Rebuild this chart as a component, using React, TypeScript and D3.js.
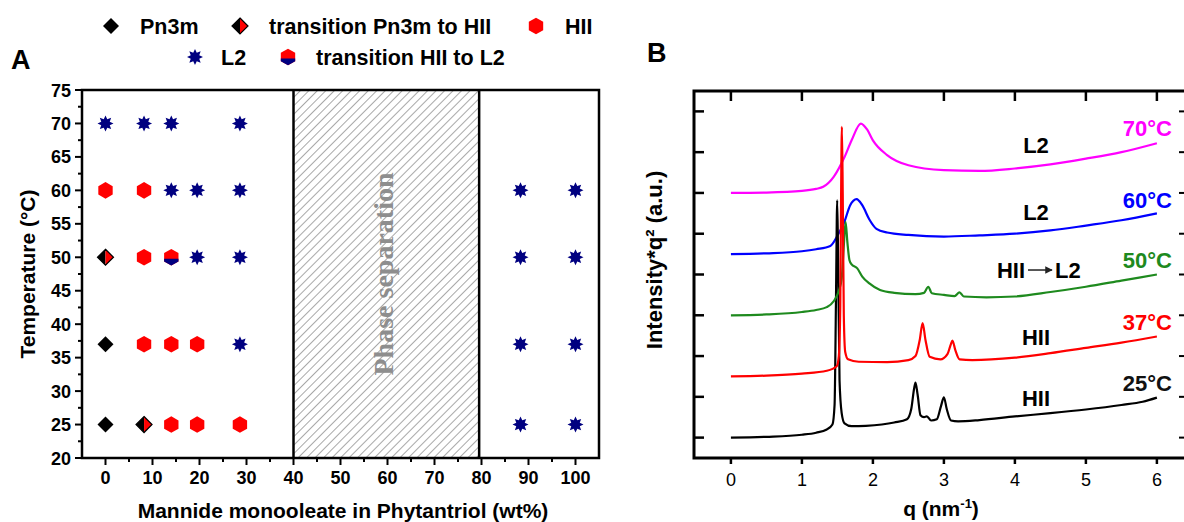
import React, { useRef, useEffect } from "react";
import * as d3 from "d3";

// ---------- panel A : phase diagram, [wt% MO, temperature °C] ----------
const pn3mPts = [[0, 37], [0, 25]];
const transPn3mHiiPts = [[0, 50], [8.2, 25]];
const hiiPts = [[0, 60], [8.2, 60], [8.2, 50], [8.2, 37], [14, 37], [19.5, 37], [14, 25], [19.5, 25], [28.6, 25]];
const l2Pts = [
  [0, 70], [8.2, 70], [14, 70], [28.6, 70],
  [14, 60], [19.5, 60], [28.6, 60], [88.3, 60], [100, 60],
  [19.5, 50], [28.6, 50], [88.3, 50], [100, 50],
  [28.6, 37], [88.3, 37], [100, 37],
  [88.3, 25], [100, 25],
];
const transHiiL2Pts = [[14, 50]];
const phaseSepRange = [40, 79.5];
const aXTicks = [0, 10, 20, 30, 40, 50, 60, 70, 80, 90, 100];
const aYTicks = [20, 25, 30, 35, 40, 45, 50, 55, 60, 65, 70, 75];

// ---------- panel B : SAXS, [q nm-1, intensity*q2 (offset units)] ----------
const curve25 = [[0, 0], [0.5, 0.02], [1.0, 0.07], [1.2, 0.12], [1.35, 0.2], [1.43, 0.32], [1.46, 0.8], [1.48, 3.4], [1.497, 5.82], [1.51, 4.4], [1.53, 1.4], [1.56, 0.6], [1.6, 0.35], [1.7, 0.28], [1.9, 0.29], [2.3, 0.37], [2.48, 0.45], [2.54, 0.7], [2.58, 1.2], [2.6, 1.35], [2.63, 1.05], [2.67, 0.55], [2.72, 0.5], [2.76, 0.52], [2.82, 0.42], [2.9, 0.45], [2.96, 0.78], [3.0, 0.99], [3.04, 0.7], [3.1, 0.42], [3.2, 0.4], [3.5, 0.43], [4.0, 0.52], [4.5, 0.6], [5.0, 0.69], [5.5, 0.8], [5.8, 0.88], [6.0, 0.98]];
const curve37 = [[0, 1.5], [0.5, 1.52], [1.0, 1.57], [1.35, 1.64], [1.49, 1.75], [1.52, 2.0], [1.54, 3.2], [1.55, 5.5], [1.563, 7.62], [1.575, 6.0], [1.59, 3.0], [1.61, 2.1], [1.65, 1.92], [1.8, 1.86], [2.2, 1.85], [2.5, 1.9], [2.6, 2.0], [2.66, 2.4], [2.7, 2.81], [2.74, 2.4], [2.8, 1.98], [2.95, 1.92], [3.05, 2.05], [3.1, 2.3], [3.12, 2.38], [3.16, 2.15], [3.22, 1.92], [3.4, 1.9], [4.0, 1.96], [4.5, 2.07], [5.0, 2.2], [5.5, 2.33], [6.0, 2.48]];
const curve50 = [[0, 3.0], [0.5, 3.02], [1.0, 3.08], [1.2, 3.13], [1.35, 3.2], [1.45, 3.35], [1.52, 3.6], [1.56, 3.9], [1.59, 4.7], [1.615, 5.29], [1.64, 4.8], [1.67, 4.35], [1.7, 4.25], [1.78, 4.15], [1.85, 3.95], [1.95, 3.78], [2.1, 3.62], [2.3, 3.55], [2.6, 3.52], [2.72, 3.55], [2.78, 3.7], [2.83, 3.54], [3.0, 3.5], [3.15, 3.47], [3.22, 3.56], [3.28, 3.46], [3.6, 3.44], [4.0, 3.46], [4.5, 3.57], [5.0, 3.7], [5.5, 3.85], [6.0, 4.0]];
const curve60 = [[0, 4.5], [0.5, 4.52], [1.0, 4.57], [1.2, 4.62], [1.4, 4.7], [1.5, 4.95], [1.6, 5.3], [1.68, 5.7], [1.77, 5.85], [1.85, 5.7], [1.95, 5.35], [2.05, 5.12], [2.2, 5.03], [2.5, 4.97], [3.0, 4.93], [3.5, 4.96], [4.0, 5.0], [4.5, 5.08], [5.0, 5.2], [5.5, 5.33], [6.0, 5.5]];
const curve70 = [[0, 6.0], [0.5, 6.01], [1.0, 6.05], [1.2, 6.1], [1.3, 6.15], [1.45, 6.4], [1.6, 6.88], [1.7, 7.29], [1.83, 7.7], [1.92, 7.55], [2.0, 7.29], [2.2, 6.93], [2.5, 6.68], [3.0, 6.56], [3.5, 6.54], [4.0, 6.6], [4.5, 6.7], [5.0, 6.84], [5.5, 7.0], [6.0, 7.22]];
const tempLabels = ["25°C", "37°C", "50°C", "60°C", "70°C"];
const phaseLabels = ["HII", "HII", "HII→L2", "L2", "L2"];
const curveColors = ["#000000", "#ff0000", "#1e8a1e", "#0000ff", "#ff00ff"];
const qTicks = [0, 1, 2, 3, 4, 5, 6];
const iTicks = [0, 1, 2, 3, 4, 5, 6, 7, 8];

const SANS = "'Liberation Sans', Arial, sans-serif";
const NAVY = "#000080";

const App = () => {
  const ref = useRef(null);

  useEffect(() => {
    const svg = d3.select(ref.current);
    svg.selectAll("*").remove();

    const defs = svg.append("defs");
    const pat = defs.append("pattern")
      .attr("id", "hatch").attr("patternUnits", "userSpaceOnUse")
      .attr("width", 6).attr("height", 6)
      .attr("patternTransform", "rotate(45)");
    pat.append("line").attr("x1", 0).attr("y1", 0).attr("x2", 0).attr("y2", 6)
      .attr("stroke", "#5e5e5e").attr("stroke-width", 1.1);
    const mk = defs.append("marker").attr("id", "arrow").attr("viewBox", "0 0 10 10")
      .attr("refX", 9).attr("refY", 5).attr("markerWidth", 5).attr("markerHeight", 5)
      .attr("orient", "auto");
    mk.append("path").attr("d", "M0,0 L10,5 L0,10 Z").attr("fill", "#222");

    // ----- marker painters -----
    const diamond = (g, cx, cy, r = 8) => {
      g.append("path").attr("d", `M${cx},${cy - r}L${cx + r},${cy}L${cx},${cy + r}L${cx - r},${cy}Z`).attr("fill", "#000");
    };
    const transDiamond = (g, cx, cy, r = 8) => {
      g.append("path").attr("d", `M${cx},${cy - r}L${cx},${cy + r}L${cx - r},${cy}Z`).attr("fill", "#000");
      g.append("path").attr("d", `M${cx},${cy - r}L${cx + r},${cy}L${cx},${cy + r}Z`).attr("fill", "#ff0000");
      g.append("path").attr("d", `M${cx},${cy - r}L${cx + r},${cy}L${cx},${cy + r}L${cx - r},${cy}Z`)
        .attr("fill", "none").attr("stroke", "#000").attr("stroke-width", 1.2);
    };
    const hexPts = (cx, cy, r) => d3.range(6).map(k => {
      const a = (-90 + 60 * k) * Math.PI / 180;
      return [cx + r * Math.cos(a), cy + r * Math.sin(a)];
    });
    const hexagon = (g, cx, cy, r = 8.3) => {
      g.append("polygon").attr("points", hexPts(cx, cy, r).join(" ")).attr("fill", "#ff0000");
    };
    const transHex = (g, cx, cy, r = 8.3) => {
      hexagon(g, cx, cy, r);
      const c = r * Math.cos(Math.PI / 6);
      const lower = [[cx + c, cy + 1.5], [cx + c, cy + r / 2], [cx, cy + r], [cx - c, cy + r / 2], [cx - c, cy + 1.5]];
      g.append("polygon").attr("points", lower.join(" ")).attr("fill", NAVY);
    };
    const star = (g, cx, cy, ro = 8, ri = 4.6) => {
      const pts = d3.range(16).map(k => {
        const a = (-90 + 22.5 * k) * Math.PI / 180;
        const r = k % 2 === 0 ? ro : ri;
        return [cx + r * Math.cos(a), cy + r * Math.sin(a)];
      });
      g.append("polygon").attr("points", pts.join(" ")).attr("fill", NAVY);
    };

    // ================= legend + panel letters =================
    const leg = svg.append("g").attr("font-family", SANS).attr("font-weight", "bold").attr("font-size", 21.5);
    diamond(leg, 111, 26);
    leg.append("text").attr("x", 140).attr("y", 33.5).text("Pn3m");
    transDiamond(leg, 240, 26);
    leg.append("text").attr("x", 269).attr("y", 33.5).text("transition Pn3m to HII");
    hexagon(leg, 536, 26);
    leg.append("text").attr("x", 565).attr("y", 33.5).text("HII");
    star(leg, 195, 57);
    leg.append("text").attr("x", 221).attr("y", 64.5).text("L2");
    transHex(leg, 288, 57);
    leg.append("text").attr("x", 316).attr("y", 64.5).text("transition HII to L2");

    svg.append("text").attr("x", 11).attr("y", 69).attr("font-family", SANS).attr("font-weight", "bold")
      .attr("font-size", 27).text("A");
    svg.append("text").attr("x", 647).attr("y", 62).attr("font-family", SANS).attr("font-weight", "bold")
      .attr("font-size", 27).text("B");

    // ================= panel A =================
    const xA = d3.scaleLinear().domain([-5, 105]).range([82, 599]);
    const yA = d3.scaleLinear().domain([20, 75]).range([458, 90]);
    const gA = svg.append("g");

    gA.append("rect").attr("x", xA(phaseSepRange[0])).attr("y", yA(75))
      .attr("width", xA(phaseSepRange[1]) - xA(phaseSepRange[0])).attr("height", yA(20) - yA(75))
      .attr("fill", "url(#hatch)");
    phaseSepRange.forEach(v => {
      gA.append("line").attr("x1", xA(v)).attr("x2", xA(v)).attr("y1", yA(75)).attr("y2", yA(20))
        .attr("stroke", "#000").attr("stroke-width", 2.5);
    });
    const midX = (xA(phaseSepRange[0]) + xA(phaseSepRange[1])) / 2;
    gA.append("text").attr("transform", `translate(${midX + 7},${yA(47.5)}) rotate(-90)`)
      .attr("text-anchor", "middle").attr("font-family", "'Liberation Serif', 'Times New Roman', serif")
      .attr("font-weight", "bold").attr("font-size", 28).attr("fill", "#8e8e8e").text("Phase separation");

    gA.append("rect").attr("x", xA(-5)).attr("y", yA(75)).attr("width", xA(105) - xA(-5))
      .attr("height", yA(20) - yA(75)).attr("fill", "none").attr("stroke", "#000").attr("stroke-width", 2.5);

    // axes
    const axA = gA.append("g").attr("font-family", SANS).attr("font-weight", "bold").attr("font-size", 18);
    d3.range(0, 101, 5).forEach(v => {
      const major = v % 10 === 0;
      axA.append("line").attr("x1", xA(v)).attr("x2", xA(v)).attr("y1", yA(20)).attr("y2", yA(20) + (major ? 7 : 4))
        .attr("stroke", "#000").attr("stroke-width", 2);
    });
    aXTicks.forEach(v => {
      axA.append("text").attr("x", xA(v)).attr("y", 484).attr("text-anchor", "middle").text(v);
    });
    d3.range(20, 75.1, 2.5).forEach(v => {
      const major = v % 5 === 0;
      axA.append("line").attr("x1", xA(-5)).attr("x2", xA(-5) - (major ? 7 : 4)).attr("y1", yA(v)).attr("y2", yA(v))
        .attr("stroke", "#000").attr("stroke-width", 2);
    });
    aYTicks.forEach(v => {
      axA.append("text").attr("x", 71).attr("y", yA(v) + 6.5).attr("text-anchor", "end").text(v);
    });
    axA.append("text").attr("transform", `translate(35,${yA(47.5)}) rotate(-90)`).attr("text-anchor", "middle")
      .attr("font-size", 21).text("Temperature (°C)");
    axA.append("text").attr("x", 343).attr("y", 518).attr("text-anchor", "middle")
      .attr("font-size", 21).text("Mannide monooleate in Phytantriol (wt%)");

    // points
    const pts = gA.append("g");
    l2Pts.forEach(d => star(pts, xA(d[0]), yA(d[1])));
    hiiPts.forEach(d => hexagon(pts, xA(d[0]), yA(d[1])));
    pn3mPts.forEach(d => diamond(pts, xA(d[0]), yA(d[1])));
    transPn3mHiiPts.forEach(d => transDiamond(pts, xA(d[0]), yA(d[1])));
    transHiiL2Pts.forEach(d => transHex(pts, xA(d[0]), yA(d[1])));

    // ================= panel B =================
    const xB = d3.scaleLinear().domain([-0.52, 6.41]).range([694, 1186]);
    const yB = d3.scaleLinear().domain([-0.5, 8.5]).range([458, 91]);
    const gB = svg.append("g");

    const line = d3.line().x(d => xB(d[0])).y(d => yB(d[1])).curve(d3.curveMonotoneX);
    const curves = [curve25, curve37, curve50, curve60, curve70];
    [4, 3, 0, 2, 1].forEach(i => {
      gB.append("path").datum(curves[i]).attr("d", line).attr("fill", "none")
        .attr("stroke", curveColors[i]).attr("stroke-width", 2.2).attr("stroke-linejoin", "round");
    });

    gB.append("rect").attr("x", xB.range()[0]).attr("y", yB.range()[1])
      .attr("width", xB.range()[1] - xB.range()[0]).attr("height", yB.range()[0] - yB.range()[1])
      .attr("fill", "none").attr("stroke", "#000").attr("stroke-width", 3);

    qTicks.forEach(v => {
      gB.append("line").attr("x1", xB(v)).attr("x2", xB(v)).attr("y1", 91).attr("y2", 101)
        .attr("stroke", "#000").attr("stroke-width", 2.5);
      gB.append("line").attr("x1", xB(v)).attr("x2", xB(v)).attr("y1", 458).attr("y2", 464)
        .attr("stroke", "#000").attr("stroke-width", 2.5);
      gB.append("text").attr("x", xB(v)).attr("y", 486).attr("text-anchor", "middle")
        .attr("font-family", SANS).attr("font-size", 18).text(v);
    });
    iTicks.forEach(v => {
      gB.append("line").attr("x1", 694).attr("x2", 704).attr("y1", yB(v)).attr("y2", yB(v))
        .attr("stroke", "#000").attr("stroke-width", 2.5);
      gB.append("line").attr("x1", 1186).attr("x2", 1179).attr("y1", yB(v)).attr("y2", yB(v))
        .attr("stroke", "#000").attr("stroke-width", 2);
    });

    const lab = gB.append("g").attr("font-family", SANS).attr("font-weight", "bold").attr("font-size", 22);
    lab.append("text").attr("transform", "translate(662,260) rotate(-90)").attr("text-anchor", "middle")
      .text("Intensity*q² (a.u.)");
    const qt = lab.append("text").attr("x", 941).attr("y", 516).attr("text-anchor", "middle").attr("font-size", 21);
    qt.append("tspan").text("q (nm");
    qt.append("tspan").attr("font-size", 13).attr("dy", -8).text("-1");
    qt.append("tspan").attr("dy", 8).text(")");

    const tempY = [1.33, 2.84, 4.36, 5.83, 7.59];
    tempLabels.forEach((t, i) => {
      lab.append("text").attr("x", 1172).attr("y", yB(tempY[i]) + 8).attr("text-anchor", "end")
        .attr("fill", curveColors[i] === "#000000" ? "#111" : curveColors[i]).text(t);
    });
    const phaseY = [0.97, 2.47, 4.11, 5.54, 7.17];
    phaseLabels.forEach((t, i) => {
      if (t.includes("→")) {
        const [a, b] = t.split("→");
        const yy = yB(phaseY[i]) + 8;
        lab.append("text").attr("x", 1025).attr("y", yy).attr("text-anchor", "end").text(a);
        lab.append("line").attr("x1", 1028).attr("x2", 1052).attr("y1", yy - 8).attr("y2", yy - 8)
          .attr("stroke", "#222").attr("stroke-width", 1.5).attr("marker-end", "url(#arrow)");
        lab.append("text").attr("x", 1055).attr("y", yy).text(b);
      } else {
        lab.append("text").attr("x", 1036).attr("y", yB(phaseY[i]) + 8).attr("text-anchor", "middle").text(t);
      }
    });
  }, []);

  return (
    <svg ref={ref} width={1184} height={522}
      style={{ position: "absolute", left: 0, top: 0, background: "#fff" }} />
  );
};

export default App;
